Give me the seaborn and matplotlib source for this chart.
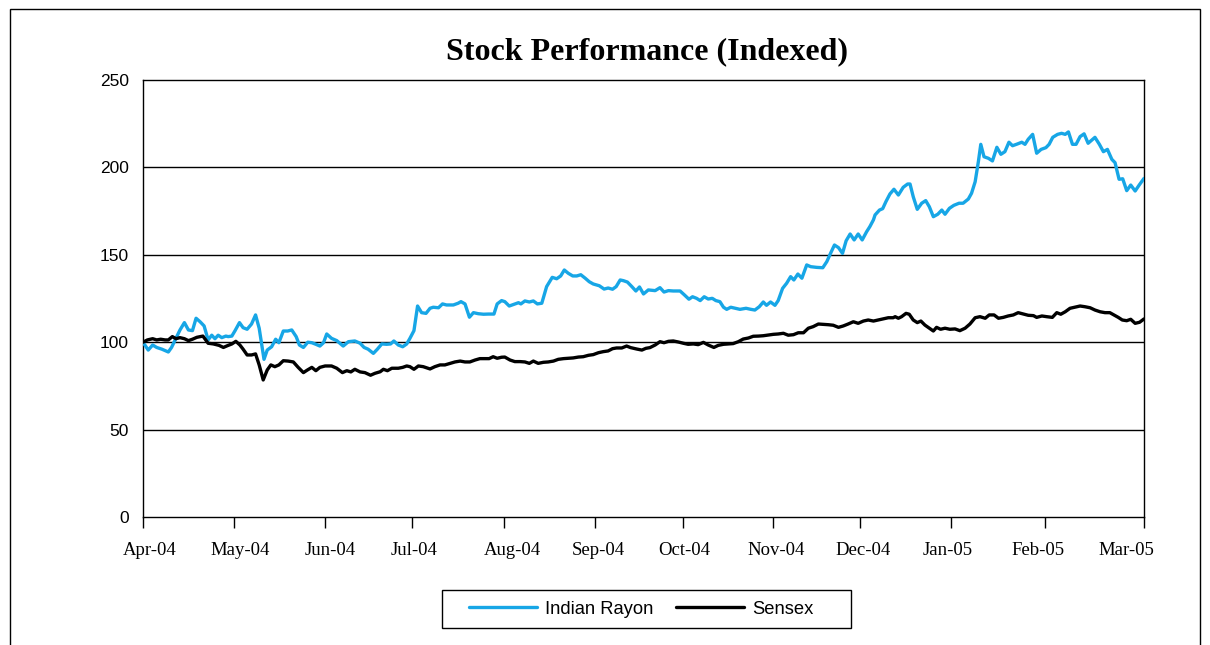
import matplotlib
matplotlib.use("Agg")
import matplotlib.pyplot as plt
import seaborn as sns
import pandas as pd
from matplotlib.patches import Rectangle
from matplotlib.lines import Line2D

# ---------------- data (trading-day index, indexed value) ----------------
ir_day = [0, 1.3, 2.4, 3.4, 4.7, 6.3, 7.1, 8.0, 9.2, 10.3, 11.3, 12.3, 13.2, 14.2, 15.2, 16.2,
          17.1, 17.9, 18.7, 19.6, 20.6, 21.2, 22.1, 22.9, 24.0, 24.9, 25.9, 27.0, 28.0, 28.9,
          30.1, 30.9, 32.0, 33.0, 33.8, 34.9, 36.0, 37.0, 38.1, 38.9, 39.9, 41.0, 42.0, 43.0,
          44.0, 44.9, 45.7, 46.9, 48.2, 49.8, 51.1, 52.7, 54.0, 55.0, 56.0, 57.3, 58.3, 59.4,
          60.6, 61.6, 62.4, 63.5, 64.6, 65.6, 66.4, 67.4, 68.3, 69.3, 70.4, 71.4, 72.2, 73.5,
          74.5, 75.5, 77.2, 78.4, 79.1, 80.1, 81.2, 82.2, 83.4, 84.7, 85.9, 87.3, 88.1, 89.2,
          90.0, 91.1, 92.3, 93.4, 94.0, 95.0, 96.1, 97.1, 98.1, 99.2, 100.4, 101.8, 102.9, 103.9,
          104.8, 105.8, 106.9, 107.9, 108.9, 110.0, 111.0, 112.0, 113.5, 114.7, 115.7, 116.8,
          117.7, 118.7, 119.5, 120.5, 121.6, 122.6, 123.5, 124.5, 125.7, 127.4, 128.6, 129.6,
          130.7, 131.9, 133.6, 134.7, 135.8, 136.7, 137.7, 138.6, 139.6, 140.6, 141.6, 142.5,
          143.5, 144.4, 145.2, 146.2, 147.3, 148.5, 150.0, 151.2, 152.2, 153.3, 154.3, 155.1,
          156.1, 157.2, 158.0, 159.1, 160.1, 161.1, 161.9, 162.9, 163.9, 165.1, 166.1, 167.6,
          169.1, 170.1, 171.1, 172.0, 173.0, 174.0, 174.9, 175.9, 176.9, 177.9, 178.9, 180.0,
          180.8, 181.7, 182.1, 183.2, 184.0, 184.8, 185.8, 186.8, 187.9, 189.1, 190.2, 190.8,
          191.6, 192.6, 193.7, 194.7, 195.6, 196.6, 197.7, 198.7, 199.5, 200.6, 201.7, 203.0,
          204.0, 205.3, 206.1, 207.0, 207.8, 208.4, 209.2, 210.3, 211.3, 212.4, 213.4, 214.4,
          215.4, 216.3, 217.5, 218.6, 219.4, 220.2, 221.3, 222.3, 223.4, 224.6, 225.4, 226.3,
          227.5, 228.5, 229.4, 230.2, 231.2, 232.1, 233.1, 234.1, 235.1, 236.8, 237.9, 238.9,
          239.9, 241.0, 241.8, 242.8, 243.7, 244.7, 245.7, 246.8, 247.8, 249.0]
ir_val = [100, 95.5, 98.4, 97, 96, 94.4, 97, 101.3, 107, 111.2, 107, 106.6, 113.7, 111.7, 109.3,
          101.3, 104, 102, 104, 102.6, 103.5, 103.2, 103.5, 106.6, 111.2, 108.3, 107.4, 110.4,
          115.6, 108, 90.2, 95.5, 97.4, 101.7, 99.7, 106.4, 106.4, 107, 103.2, 98.4, 97, 100,
          99.7, 98.8, 97.8, 99.7, 104.7, 102.2, 100.9, 97.8, 100.3, 100.7, 99.4, 97, 96, 93.6,
          96, 99, 98.8, 99, 100.7, 98.4, 97.4, 99, 102.2, 106.6, 120.7, 116.9, 116.5, 119.4,
          120, 119.7, 121.9, 121.3, 121.3, 122.3, 123.2, 121.9, 114.3, 116.9, 116.3, 116,
          116.1, 116.1, 121.9, 123.8, 123.2, 120.7, 121.7, 122.6, 121.9, 123.6, 123, 123.6,
          121.9, 122.3, 131.8, 137.1, 136.3, 137.9, 141.3, 139.4, 137.9, 137.9, 138.6, 136.6,
          134.6, 133.3, 132.3, 130.4, 131, 130.3, 131.8, 135.6, 135.2, 134.4, 131.8, 129.3,
          131.6, 127.6, 129.9, 129.5, 131.2, 128.7, 129.5, 129.3, 129.3, 127, 124.6, 126,
          125.1, 123.8, 126, 124.7, 125.1, 123.8, 123.2, 120, 118.8, 120, 119.4, 118.8, 119.4,
          118.8, 118.4, 120.3, 123, 121.1, 123, 121.1, 123.8, 130.8, 133.7, 137.5, 135.6, 139,
          136.6, 144.2, 143.2, 142.8, 142.6, 146.1, 151.2, 155.6, 154.1, 150.8, 158, 161.9,
          158.5, 161.9, 158.5, 163.2, 166.1, 170, 172.8, 175.6, 176.4, 180.4, 184.8, 187.5,
          184.2, 188.6, 190.5, 190.5, 183.2, 176, 179.5, 181, 177.5, 171.8, 173.2, 175.6,
          173.2, 176.6, 178.3, 179.5, 179.5, 181.9, 185.2, 191.8, 203.3, 213.2, 206.1, 205.2,
          203.7, 211.5, 207.5, 209, 214.4, 212.4, 213.4, 214.4, 213.2, 216.1, 218.9, 208.1,
          210.3, 211.3, 213.2, 217.2, 218.9, 219.5, 218.9, 220.3, 213.2, 213.2, 217.6, 219.2,
          213.8, 217.2, 213.2, 209, 210.3, 204.6, 202.7, 193.2, 193.5, 186.7, 189.9, 186.5,
          189.9, 193.7]

sx_day = [0, 1.1, 2.4, 3.4, 4.4, 5.5, 6.3, 7.3, 8.2, 9.2, 10.3, 11.3, 12.3, 13.4, 14.9, 16.2,
          17.5, 18.9, 20.0, 21.0, 22.1, 23.1, 24.1, 24.9, 25.9, 27.0, 28.0, 28.9, 29.9, 30.9,
          31.8, 32.8, 33.8, 34.9, 36.1, 37.4, 38.6, 39.9, 40.9, 42.0, 43.0, 44.0, 45.3, 46.9,
          48.2, 49.6, 50.7, 51.7, 52.7, 54.0, 55.2, 56.6, 57.7, 59.0, 59.8, 60.8, 61.9, 63.5,
          64.6, 65.6, 66.4, 67.4, 68.5, 69.7, 71.4, 72.6, 73.9, 75.1, 76.4, 77.6, 78.9, 80.1,
          81.3, 82.6, 83.8, 85.1, 86.1, 87.1, 88.1, 89.2, 90.0, 91.3, 92.5, 93.8, 95.0, 96.1,
          97.1, 98.3, 99.6, 100.8, 102.1, 103.3, 104.6, 105.8, 107.0, 108.3, 109.5, 110.8,
          112.0, 113.3, 114.5, 115.7, 116.8, 117.8, 119.1, 120.3, 121.3, 122.8, 124.1, 125.1,
          126.1, 127.4, 128.6, 129.6, 130.7, 131.9, 133.2, 134.4, 135.6, 136.9, 138.1, 139.4,
          140.6, 142.0, 143.1, 144.4, 145.6, 146.8, 148.1, 149.3, 150.6, 151.8, 153.1, 154.3,
          155.5, 156.8, 158.0, 159.3, 160.5, 161.8, 163.0, 164.3, 165.5, 166.7, 168.0, 169.2,
          170.5, 171.7, 173.0, 174.2, 175.4, 176.7, 177.9, 179.2, 180.4, 181.7, 182.9, 184.2,
          185.4, 186.6, 187.1, 187.9, 188.7, 189.8, 190.6, 191.6, 192.6, 193.5, 194.5, 195.6,
          196.6, 197.4, 198.4, 199.5, 200.7, 202.0, 203.2, 204.5, 205.7, 207.0, 208.2, 209.5,
          210.5, 211.7, 212.8, 214.0, 215.2, 216.5, 217.7, 219.0, 220.2, 221.5, 222.3, 223.6,
          224.8, 226.2, 227.3, 228.3, 229.4, 230.6, 231.8, 233.1, 234.3, 235.6, 236.8, 238.1,
          239.3, 240.5, 241.5, 242.6, 243.6, 244.7, 245.7, 246.8, 247.9, 249.0]
sx_val = [100, 101.3, 102, 101.3, 101.7, 101.3, 101.3, 103.2, 102, 102.6, 102, 100.9, 101.7,
          102.8, 103.5, 99.4, 99, 98.2, 97, 98, 99, 100.5, 98.4, 96, 92.7, 92.7, 93.3, 87, 78.4,
          84.1, 87, 86, 87, 89.4, 89.2, 88.7, 85.6, 82.6, 84.1, 85.6, 83.7, 85.6, 86.4, 86.4,
          85.1, 82.6, 83.7, 83, 84.5, 83, 82.6, 81.1, 82.2, 83.1, 84.5, 83.7, 85.1, 85.1, 85.6,
          86.4, 86, 84.5, 86.4, 86, 84.7, 86, 87, 87, 87.9, 88.7, 89.2, 88.7, 88.7, 89.8, 90.6,
          90.6, 90.6, 91.7, 90.8, 91.4, 91.5, 89.8, 88.9, 88.9, 88.7, 87.9, 89.2, 87.9, 88.5,
          88.7, 89.2, 90.2, 90.6, 90.8, 91, 91.5, 91.7, 92.5, 92.9, 94, 94.6, 95, 96.3, 96.7,
          96.7, 97.8, 96.9, 96.1, 95.5, 96.5, 96.9, 98.4, 100.3, 99.7, 100.5, 100.7, 100.1,
          99.4, 98.8, 99, 98.6, 99.9, 98.4, 97, 98.2, 98.8, 99, 99.2, 100.3, 101.8, 102.4,
          103.4, 103.5, 103.7, 104.1, 104.5, 104.7, 105.1, 104, 104.3, 105.4, 105.4, 108,
          108.9, 110.4, 110.2, 110, 109.7, 108.5, 109.3, 110.4, 111.7, 110.8, 112.1, 112.7,
          112.1, 112.7, 113.4, 114, 114, 114.6, 113.7, 114.6, 116.5, 116, 112.7, 111.2, 112.1,
          109.8, 108, 106.4, 108.5, 107.4, 108, 107.4, 107.6, 106.6, 108, 110.4, 114, 114.6,
          113.7, 115.6, 115.6, 113.7, 114.2, 115, 115.6, 116.9, 116.1, 115.4, 115.2, 114.2,
          115, 114.6, 114.2, 116.9, 116, 117.4, 119.4, 120, 120.7, 120.3, 119.7, 118.4, 117.4,
          116.9, 116.9, 115.6, 114.2, 112.7, 112.3, 113.1, 110.8, 111.4, 113.3]

tick_days = [0, 22.6, 45.3, 66.9, 89.8, 112.4, 134.3, 156.7, 178.3, 200.9, 224.3, 249.0]
label_days = [1.7, 24.1, 46.5, 67.4, 91.8, 113.2, 134.6, 157.5, 179.1, 200.2, 222.6, 244.5]
tick_labels = ["Apr-04", "May-04", "Jun-04", "Jul-04", "Aug-04", "Sep-04", "Oct-04",
               "Nov-04", "Dec-04", "Jan-05", "Feb-05", "Mar-05"]
y_ticks = [0, 50, 100, 150, 200, 250]

series_names = ["Indian Rayon", "Sensex"]
series_colors = ["#17A6E6", "#000000"]

# ---------------- figure ----------------
sns.set_style("white")
plt.rcParams["font.family"] = ["Liberation Sans", "DejaVu Sans"]
plt.rcParams["text.color"] = "black"
plt.rcParams["xtick.color"] = "black"
plt.rcParams["ytick.color"] = "black"
plt.rcParams["axes.labelcolor"] = "black"

fig = plt.figure(figsize=(12.1, 6.45), dpi=100)
ax = fig.add_axes([143 / 1210, 1 - 517 / 645, 1001 / 1210, 437 / 645])

df = pd.concat([
    pd.DataFrame({"day": ir_day, "value": ir_val, "series": series_names[0]}),
    pd.DataFrame({"day": sx_day, "value": sx_val, "series": series_names[1]}),
])

for y in y_ticks[1:-1]:
    ax.axhline(y, color="black", lw=1.0, zorder=1)

sns.lineplot(data=df, x="day", y="value", hue="series", hue_order=series_names,
             palette=series_colors, linewidth=2.4, ax=ax, legend=False,
             estimator=None, sort=False, zorder=3)

ax.set_xlim(0, 249)
ax.set_ylim(0, 250)
ax.set_yticks(y_ticks)
ax.set_yticklabels([str(v) for v in y_ticks], fontsize=12.5, family=["Liberation Sans"],
                   color="black")
# major ticks: marks only; minor ticks: labels only (Excel-like label placement)
ax.set_xticks(tick_days)
ax.set_xticklabels([""] * len(tick_days))
ax.set_xticks(label_days, minor=True)
ax.set_xticklabels(tick_labels, minor=True, fontsize=13.5, family=["Liberation Serif"],
                   color="black")
ax.tick_params(axis="y", length=0, pad=10)
ax.tick_params(axis="x", which="major", length=8, width=1, direction="out",
               bottom=True, color="black")
ax.tick_params(axis="x", which="minor", length=0, pad=18, bottom=True)
ax.set_xlabel("")
ax.set_ylabel("")
for s in ax.spines.values():
    s.set_visible(True)
    s.set_color("black")
    s.set_linewidth(1.0)

fig.text(646.5 / 1210, 1 - 59 / 645, "Stock Performance (Indexed)", ha="center",
         va="baseline", fontsize=23, fontweight="bold", family=["Liberation Serif"],
         color="black")

# legend (items) + its box
handles = [Line2D([], [], color=c, lw=2.4) for c in series_colors]
leg = fig.legend(handles, series_names, loc="center", ncol=2,
                 bbox_to_anchor=(641.5 / 1210, 1 - 609 / 645), fontsize=13.2,
                 frameon=False, handlelength=3.7, handletextpad=0.45,
                 columnspacing=1.25, borderpad=0.0, borderaxespad=0.0)
for t in leg.get_texts():
    t.set_color("black")
fig.patches.append(Rectangle((442 / 1210, 1 - 628 / 645), 409 / 1210, 38 / 645,
                             transform=fig.transFigure, fill=False, edgecolor="black",
                             lw=1.0))

# outer frame
fig.patches.append(Rectangle((10 / 1210, -0.1), 1190 / 1210, 1.1 - 9 / 645,
                             transform=fig.transFigure, fill=False, edgecolor="black",
                             lw=1.0))

fig.savefig("out.png", dpi=100)
